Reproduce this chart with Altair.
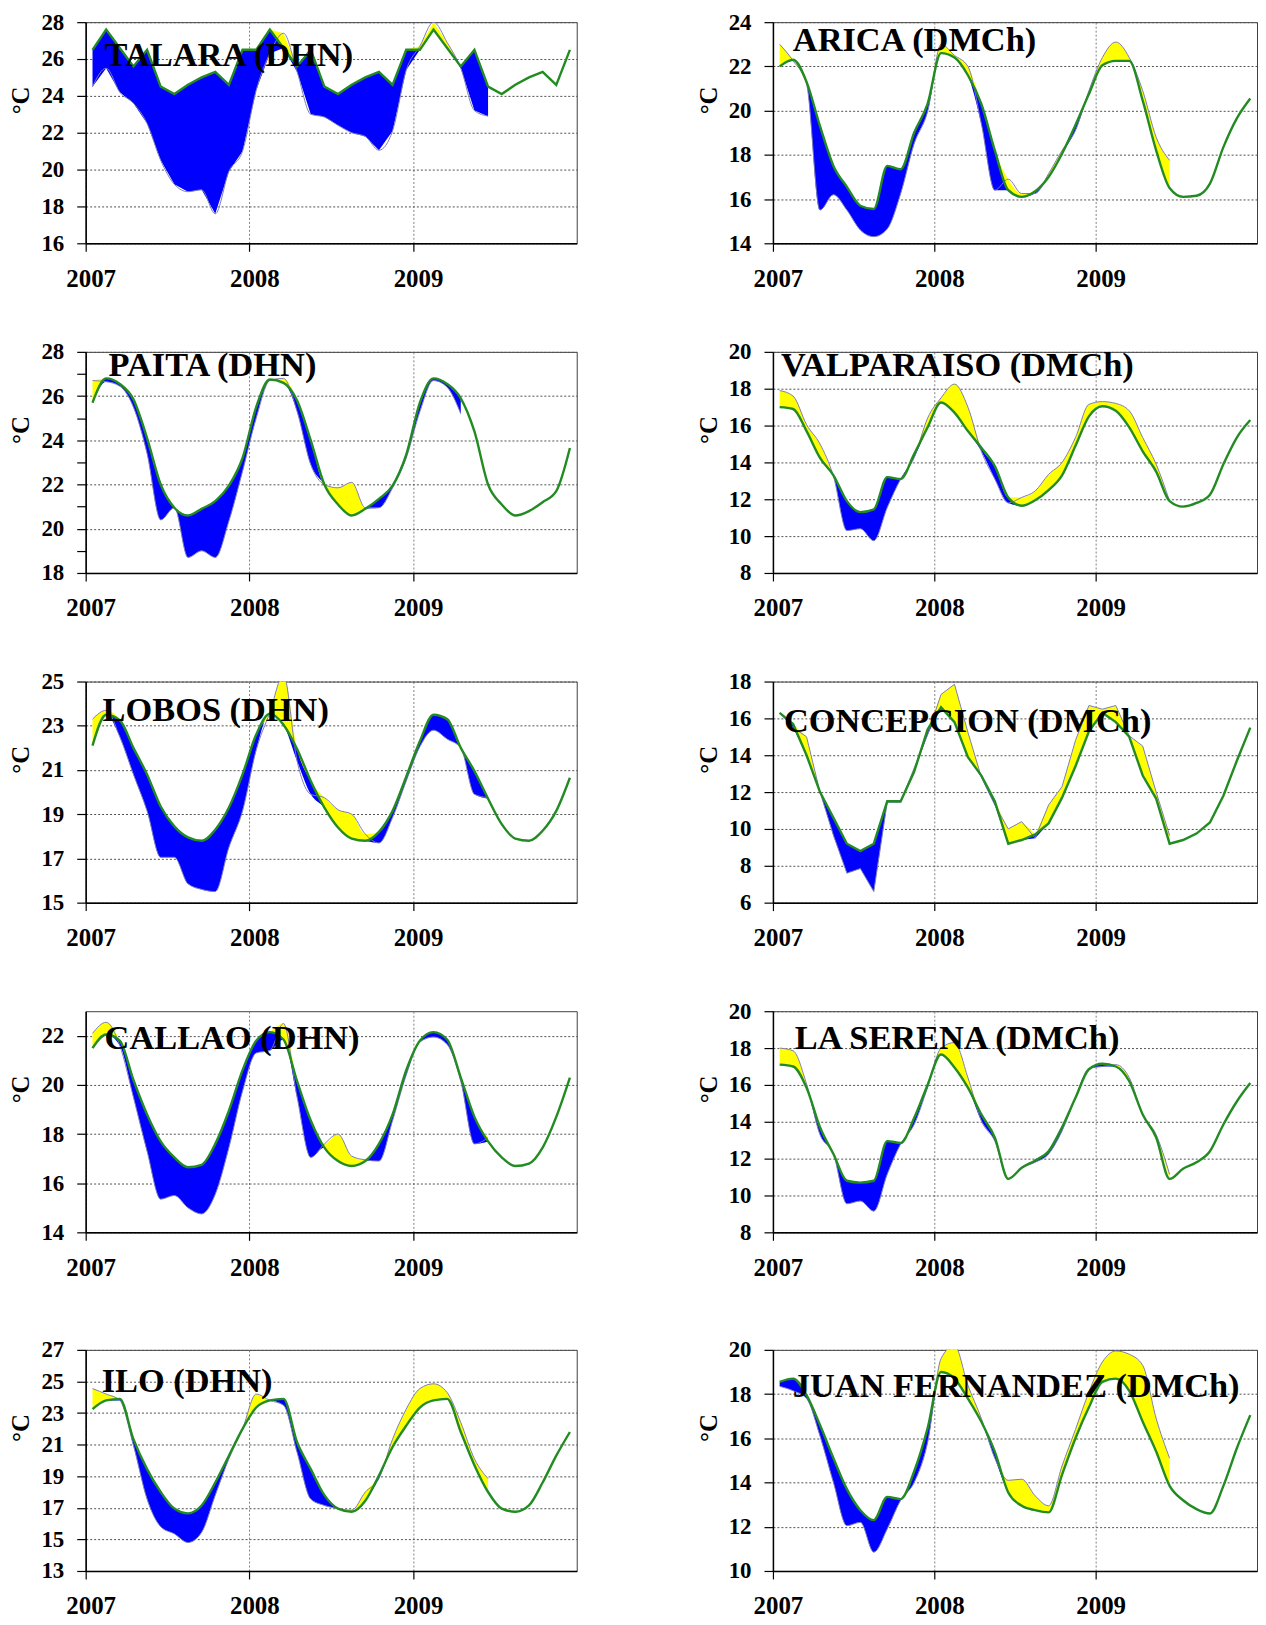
import altair as alt
import pandas as pd

# ---------------- data ----------------
month_pos = [2007 + (m + 0.5) / 12 for m in range(36)]   # mid-month positions Jan 2007 .. Dec 2009
x_ticks = [2007, 2007.5, 2008, 2008.5, 2009, 2009.5]

talara_clim = [26.5, 27.6, 26.6, 25.6, 26.5, 24.5, 24.1, 24.6, 25.0, 25.3, 24.6, 26.5,
               26.5, 27.6, 26.6, 25.6, 26.5, 24.5, 24.1, 24.6, 25.0, 25.3, 24.6, 26.5,
               26.5, 27.6, 26.6, 25.6, 26.5, 24.5, 24.1, 24.6, 25.0, 25.3, 24.6, 26.5]
talara_obs = [24.5, 25.5, 24.2, 23.6, 22.5, 20.5, 19.2, 18.8, 18.9, 17.6, 19.9, 21.0,
              24.3, 26.3, 27.4, 25.3, 23.0, 22.85, 22.4, 22.0, 21.8, 21.05, 22.1, 25.4,
              26.7, 28.0, 26.9, 25.5, 23.2, 22.9]

arica_clim = [22.0, 22.3, 21.3, 19.3, 17.5, 16.55, 15.7, 15.55, 17.5, 17.35, 19.0, 20.3,
              22.6, 22.4, 21.6, 20.3, 18.2, 16.4, 16.1, 16.35, 17.0, 18.05, 19.35, 20.75,
              22.05, 22.25, 22.25, 20.45, 18.2, 16.5, 16.1, 16.15, 16.7, 18.35, 19.65, 20.55]
arica_obs = [23.0, 22.25, 21.2, 15.5, 16.2, 15.5, 14.6, 14.3, 14.65, 16.25, 18.5, 19.95,
             23.0, 22.5, 22.0, 19.4, 16.4, 16.9, 16.25, 16.25, 17.15, 18.2, 19.1, 20.9,
             22.4, 23.1, 22.4, 20.9, 18.8, 17.75]

paita_clim = [25.7, 26.8, 26.55, 25.85, 24.1, 22.0, 20.95, 20.6, 20.9, 21.25, 21.95, 23.2,
              25.5, 26.75, 26.6, 25.8, 24.0, 22.0, 21.1, 20.6, 20.9, 21.35, 21.95, 23.35,
              25.7, 26.8, 26.55, 25.9, 24.4, 22.0, 21.1, 20.6, 20.8, 21.2, 21.7, 23.65]
paita_obs = [26.7, 26.65, 26.45, 25.5, 23.4, 20.4, 20.95, 18.7, 19.0, 18.7, 20.35, 22.6,
             25.0, 26.7, 26.8, 25.3, 22.9, 22.0, 21.85, 22.1, 20.95, 20.95, 21.85, 23.2,
             25.3, 26.7, 26.4, 25.2]

valpo_clim = [17.0, 16.9, 15.7, 14.25, 13.3, 11.9, 11.3, 11.45, 13.2, 13.1, 14.45, 15.9,
              17.25, 16.7, 15.7, 14.8, 13.8, 12.1, 11.65, 11.95, 12.5, 13.3, 14.9, 16.5,
              17.05, 16.8, 15.9, 14.6, 13.5, 11.9, 11.6, 11.8, 12.25, 13.9, 15.35, 16.3]
valpo_obs = [17.9, 17.6, 16.05, 15.0, 13.25, 10.3, 10.4, 9.75, 11.55, 13.1, 14.25, 16.4,
             17.5, 18.25, 17.0, 14.6, 13.1, 11.8, 12.1, 12.45, 13.35, 14.0, 15.35, 17.15,
             17.3, 17.2, 16.8, 15.35, 13.9, 11.9]

lobos_clim = [22.1, 23.5, 23.25, 22.0, 20.8, 19.35, 18.45, 17.95, 17.8, 18.3, 19.3, 20.8,
              22.6, 23.55, 23.05, 21.95, 20.5, 19.3, 18.4, 17.9, 17.8, 18.2, 19.15, 20.7,
              22.3, 23.5, 23.3, 22.0, 20.95, 19.7, 18.55, 17.9, 17.8, 18.25, 19.15, 20.65]
lobos_obs = [23.3, 23.7, 22.5, 20.8, 19.15, 17.05, 17.05, 15.85, 15.6, 15.5, 17.5, 19.15,
             21.9, 23.6, 25.3, 21.4, 19.9, 19.75, 19.2, 19.0, 18.1, 17.7, 18.85, 20.5,
             22.05, 22.8, 22.4, 22.0, 19.9, 19.75]

concep_clim = [16.3, 15.7, 14.0, 12.0, 10.6, 9.2, 8.8, 9.2, 11.5, 11.5, 13.1, 15.4,
               16.6, 15.8, 13.9, 12.9, 11.5, 9.2, 9.4, 9.7, 10.3, 11.7, 13.4, 15.3,
               16.3, 15.8, 15.0, 12.9, 11.65, 9.2, 9.4, 9.75, 10.35, 11.8, 13.7, 15.5]
concep_obs = [16.3, 15.5, 15.0, 12.0, 9.65, 7.6, 7.85, 6.6, 11.45, 11.45, 13.3, 15.1,
              17.3, 17.85, 15.25, 12.8, 11.3, 10.0, 10.4, 9.5, 11.3, 12.3, 14.8, 16.7,
              16.5, 16.7, 15.05, 14.5, 12.0, 9.65]

callao_clim = [21.5, 22.05, 21.8, 20.2, 18.8, 17.7, 17.05, 16.65, 16.75, 17.6, 18.95, 20.6,
               21.8, 22.15, 21.85, 20.15, 18.55, 17.45, 16.9, 16.7, 16.9, 17.6, 18.8, 20.6,
               21.8, 22.15, 21.85, 20.3, 18.7, 17.7, 17.05, 16.7, 16.8, 17.45, 18.7, 20.3]
callao_obs = [22.1, 22.55, 21.6, 19.5, 17.3, 15.35, 15.5, 15.0, 14.75, 15.55, 17.45, 19.75,
              21.3, 21.4, 22.5, 19.5, 17.05, 17.6, 18.0, 17.1, 16.95, 16.9, 18.55, 20.4,
              21.75, 21.95, 21.65, 20.15, 17.6, 17.85]

serena_clim = [17.1, 17.0, 15.85, 13.7, 12.25, 10.8, 10.7, 10.8, 12.95, 12.85, 14.2, 16.0,
               17.65, 16.95, 15.85, 14.4, 13.15, 10.9, 11.5, 11.9, 12.4, 13.7, 15.3, 16.85,
               17.15, 17.0, 16.2, 14.4, 13.15, 10.9, 11.45, 11.8, 12.4, 13.85, 15.1, 16.1]
serena_obs = [18.0, 17.85, 16.05, 13.3, 12.25, 9.55, 9.7, 9.15, 11.15, 12.8, 13.85, 15.85,
              18.0, 18.3, 16.4, 14.05, 12.95, 10.9, 11.5, 11.8, 12.25, 13.5, 15.3, 16.9,
              17.0, 17.1, 16.4, 14.4, 13.3, 11.15]

ilo_clim = [23.25, 23.8, 23.9, 21.35, 19.45, 18.0, 16.95, 16.65, 17.15, 18.6, 20.3, 22.0,
            23.35, 23.8, 23.9, 21.15, 19.45, 17.8, 16.95, 16.75, 17.45, 19.05, 20.85, 22.2,
            23.35, 23.8, 23.9, 21.8, 19.7, 18.0, 16.95, 16.75, 17.15, 18.6, 20.3, 21.8]
ilo_obs = [24.55, 24.2, 23.8, 20.95, 17.55, 15.8, 15.35, 14.8, 15.45, 17.8, 20.1, 22.0,
           24.2, 23.8, 23.5, 20.5, 17.55, 17.15, 16.95, 16.85, 18.0, 18.85, 21.35, 23.25,
           24.55, 24.85, 24.3, 22.4, 20.1, 18.85]

juan_clim = [18.55, 18.7, 17.95, 16.6, 15.1, 13.7, 12.75, 12.3, 13.35, 13.25, 14.5, 16.45,
             19.0, 18.7, 17.8, 16.75, 15.4, 13.55, 12.95, 12.75, 12.65, 14.35, 16.0, 17.4,
             18.55, 18.7, 18.15, 16.75, 15.4, 13.85, 13.2, 12.8, 12.6, 13.85, 15.55, 17.05]
juan_obs = [18.35, 18.15, 17.8, 16.1, 14.0, 12.05, 12.2, 10.85, 11.9, 13.2, 14.0, 15.8,
            19.6, 20.2, 18.4, 16.9, 15.1, 14.1, 14.15, 13.4, 12.95, 14.75, 16.4, 18.1,
            19.45, 19.95, 19.8, 19.3, 16.9, 15.1]

# ---------------- layout / style ----------------
FONT = "Liberation Serif"
BLUE = "#0000FF"
YELLOW = "#FFFF00"
GREEN = "#228B22"
OBS_COLOR = "#7C7CB8"
PLOT_H = 222
LEFT_W = 493
RIGHT_W = 486
X_LABEL_SIZE = 25
Y_LABEL_SIZE = 23
TITLE_SIZE = 25
NAME_SIZE = 34.5


def panel(name, clim, obs, y_dom, y_vals, major_test, area_interp, clim_interp, obs_interp,
          width, tx, ty):
    n = len(obs)
    df = pd.DataFrame({"x": month_pos, "clim": clim,
                       "obs": list(obs) + [None] * (36 - n)})
    xs = alt.Scale(domain=[2007, 2010], nice=False, zero=False)
    ys = alt.Scale(domain=y_dom, nice=False, zero=False)
    xax = alt.Axis(values=x_ticks, format="d",
                   labelExpr="datum.value % 1 == 0 ? datum.label : ''",
                   grid=True, gridDash=[2, 2], gridColor="#808080", gridWidth=1,
                   gridOpacity={"condition": {"test": "datum.value % 1 == 0", "value": 1}, "value": 0},
                   tickSize=8, labelPadding=15, labelOffset=5, labelFlush=False,
                   labelOverlap=False, labelFontSize=X_LABEL_SIZE)
    yax = alt.Axis(values=y_vals,
                   labelExpr=f"{major_test} ? datum.label : ''",
                   grid=True, gridDash=[2, 2], gridColor="#505050", gridWidth=1,
                   gridOpacity={"condition": {"test": major_test, "value": 1}, "value": 0},
                   tickSize=9, labelPadding=13, labelFlush=False, labelOverlap=False,
                   labelFontSize=Y_LABEL_SIZE,
                   titleX=-65, titleY=78, titleAngle=270, titleAlign="center",
                   titleBaseline="middle")
    X = alt.X("x:Q", scale=xs, axis=xax, title=None)

    def Y(field):
        return alt.Y(field, scale=ys, axis=yax, title="°C")

    base = alt.Chart(df)
    valid = base.transform_filter("isValid(datum.obs)")
    blue = valid.transform_calculate(lo="min(datum.obs, datum.clim)").mark_area(
        color=BLUE, interpolate=area_interp, clip=True, opacity=1
    ).encode(x=X, y=Y("lo:Q"), y2="clim:Q")
    yellow = valid.transform_calculate(hi="max(datum.obs, datum.clim)").mark_area(
        color=YELLOW, interpolate=area_interp, clip=True, opacity=1
    ).encode(x=X, y=Y("clim:Q"), y2="hi:Q")
    obs_line = valid.mark_line(color=OBS_COLOR, strokeWidth=1, interpolate=obs_interp,
                               clip=True).encode(x=X, y=Y("obs:Q"))
    clim_line = base.mark_line(color=GREEN, strokeWidth=2.4, interpolate=clim_interp,
                               clip=True).encode(x=X, y=Y("clim:Q"))
    title = alt.Chart(pd.DataFrame({"t": [name]})).mark_text(
        font=FONT, fontSize=NAME_SIZE, fontWeight="bold", color="black",
        align="left", baseline="alphabetic"
    ).encode(text="t:N", x=alt.value(tx), y=alt.value(ty))
    return alt.layer(blue, yellow, obs_line, clim_line, title).properties(
        width=width, height=PLOT_H)


ALL = "true"
p_talara = panel("TALARA (DHN)", talara_clim, talara_obs, [16, 28], [16, 18, 20, 22, 24, 26, 28],
                 ALL, "linear", "linear", "monotone", LEFT_W, 19, 44)
p_arica = panel("ARICA (DMCh)", arica_clim, arica_obs, [14, 24], [14, 16, 18, 20, 22, 24],
                ALL, "monotone", "monotone", "monotone", RIGHT_W, 20, 29)
p_paita = panel("PAITA (DHN)", paita_clim, paita_obs, [18, 28],
                [18, 19, 20, 21, 22, 23, 24, 25, 26, 27, 28],
                "datum.value % 2 == 0", "monotone", "monotone", "monotone", LEFT_W, 23, 24)
p_valpo = panel("VALPARAISO (DMCh)", valpo_clim, valpo_obs, [8, 20], [8, 10, 12, 14, 16, 18, 20],
                ALL, "monotone", "monotone", "monotone", RIGHT_W, 8, 24)
p_lobos = panel("LOBOS (DHN)", lobos_clim, lobos_obs, [15, 25], [15, 17, 19, 21, 23, 25],
                ALL, "monotone", "monotone", "monotone", LEFT_W, 17, 40)
p_concep = panel("CONCEPCION (DMCh)", concep_clim, concep_obs, [6, 18], [6, 8, 10, 12, 14, 16, 18],
                 ALL, "linear", "linear", "linear", RIGHT_W, 11, 51)
p_callao = panel("CALLAO (DHN)", callao_clim, callao_obs, [14, 23], [14, 16, 18, 20, 22],
                 ALL, "monotone", "monotone", "monotone", LEFT_W, 19, 38)
p_serena = panel("LA SERENA (DMCh)", serena_clim, serena_obs, [8, 20], [8, 10, 12, 14, 16, 18, 20],
                 ALL, "monotone", "monotone", "monotone", RIGHT_W, 22, 38)
p_ilo = panel("ILO (DHN)", ilo_clim, ilo_obs, [13, 27], [13, 15, 17, 19, 21, 23, 25, 27],
              ALL, "monotone", "monotone", "monotone", LEFT_W, 16, 42)
p_juan = panel("JUAN FERNANDEZ (DMCh)", juan_clim, juan_obs, [10, 20], [10, 12, 14, 16, 18, 20],
               ALL, "monotone", "monotone", "monotone", RIGHT_W, 20, 47)

H_SP = 118
rows = [alt.hconcat(a, b, spacing=H_SP) for a, b in
        [(p_talara, p_arica), (p_paita, p_valpo), (p_lobos, p_concep),
         (p_callao, p_serena), (p_ilo, p_juan)]]
top4 = alt.vconcat(*rows[:4], spacing=48)
chart = alt.vconcat(top4, rows[4], spacing=57).properties(
    padding={"top": -1, "left": 0, "right": 0, "bottom": 0}
).configure_axis(
    labelFont=FONT, labelFontWeight="bold", labelColor="black",
    titleFont=FONT, titleFontSize=TITLE_SIZE, titleFontWeight="bold", titleColor="black",
    domainColor="black", domainWidth=1.5, tickColor="black", tickWidth=1.2
).configure_view(stroke="#404040", strokeWidth=1)

chart.save("out.html", embed_options={"renderer": "svg", "actions": False})
